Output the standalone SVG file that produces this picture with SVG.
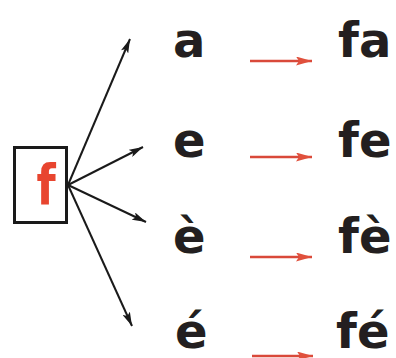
<svg xmlns="http://www.w3.org/2000/svg" width="396" height="358" viewBox="0 0 396 358">
<style>
.t{font-family:"DejaVu Sans","Liberation Sans",sans-serif;font-weight:bold;font-size:48px;fill:#231f20}
.blk{stroke:#1a1a1a;stroke-width:2;fill:none}
.red{stroke:#d9493a;stroke-width:2.6;fill:none}
</style>
<defs>
<marker id="ab" viewBox="0 0 14 8" refX="14" refY="4" markerWidth="14" markerHeight="8" markerUnits="userSpaceOnUse" orient="auto">
<path d="M0,0 L14,4 L0,8 L3,4 Z" fill="#1a1a1a"/>
</marker>
<marker id="ar" viewBox="0 0 16 9" refX="16" refY="4.5" markerWidth="16" markerHeight="9" markerUnits="userSpaceOnUse" orient="auto">
<path d="M0,0 L16,4.5 L0,9 L3,4.5 Z" fill="#e0503c"/>
</marker>
</defs>
<g id="box-f">
<rect x="14.5" y="147.5" width="52" height="75" fill="#fff" stroke="#1a1a1a" stroke-width="3"/>
<text x="0" y="0" text-anchor="middle" transform="translate(46,204) scale(0.85,1.05)" style="font-family:'DejaVu Sans','Liberation Sans',sans-serif;font-weight:bold;font-size:52px;fill:#e8452f">f</text>
</g>
<g id="row-a">
<text class="t" x="173" y="57">a</text>
<text class="t" x="338" y="57">fa</text>
</g>
<g id="row-e">
<text class="t" x="173" y="157">e</text>
<text class="t" x="338" y="157">fe</text>
</g>
<g id="row-e-grave">
<text class="t" x="173" y="253">è</text>
<text class="t" x="338" y="253">fè</text>
</g>
<g id="row-e-acute">
<text class="t" x="175" y="348">é</text>
<text class="t" x="336" y="348">fé</text>
</g>
<g id="connectors">
<line class="blk" x1="68" y1="185" x2="130" y2="39" marker-end="url(#ab)"/>
<line class="blk" x1="68" y1="185" x2="143" y2="147" marker-end="url(#ab)"/>
<line class="blk" x1="68" y1="185" x2="146" y2="222" marker-end="url(#ab)"/>
<line class="blk" x1="68" y1="185" x2="132" y2="326" marker-end="url(#ab)"/>
<line class="red" x1="250" y1="61" x2="312" y2="61" marker-end="url(#ar)"/>
<line class="red" x1="250" y1="157" x2="312" y2="157" marker-end="url(#ar)"/>
<line class="red" x1="250" y1="257" x2="312" y2="257" marker-end="url(#ar)"/>
<line class="red" x1="252" y1="356" x2="313" y2="356" marker-end="url(#ar)"/>
</g>
</svg>
